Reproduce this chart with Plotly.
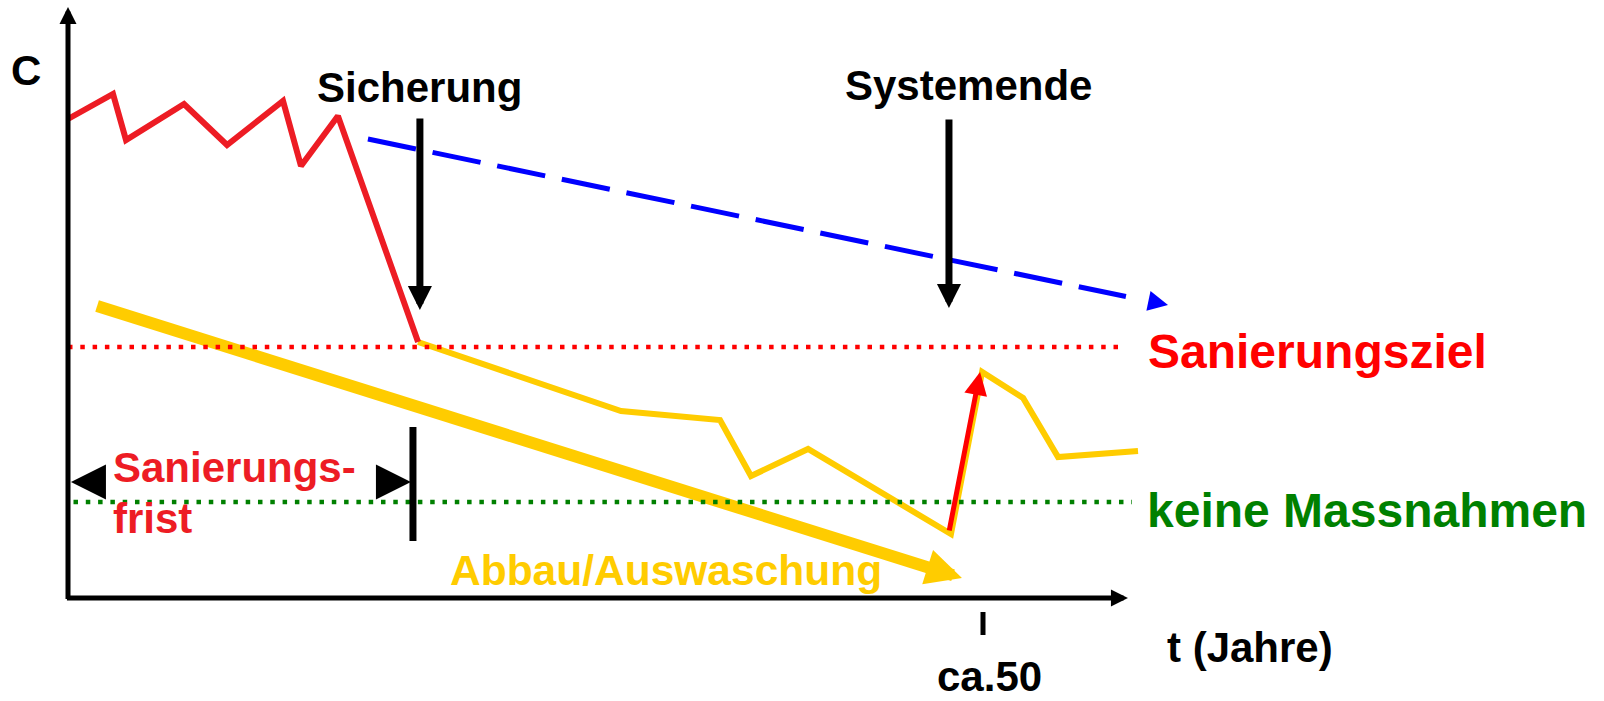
import plotly.graph_objects as go

# ---------------- data (t in years, C in arbitrary concentration units) ----------------
# measured concentration before/while remediation (red)
t_measured = [0.0, 2.46, 3.17, 6.34, 8.69, 11.75, 12.73, 14.75, 19.13]
c_measured = [95.8, 100.8, 91.6, 98.8, 90.6, 99.4, 86.4, 96.4, 51.2]

# concentration after "Sicherung" (thin yellow)
t_after = [19.13, 30.22, 35.63, 37.32, 40.44, 48.25, 49.95, 52.19, 54.10, 58.47]
c_after = [51.2, 37.4, 35.6, 24.4, 29.8, 12.8, 45.2, 40.0, 28.2, 29.4]

# prognosis without measures (blue dashed arrow)
t_prognosis = [16.39, 57.81]
c_prognosis = [91.8, 60.3]
t_prognosis_head = [59.04, 60.11]
c_prognosis_head = [59.42, 58.6]

# natural attenuation "Abbau/Auswaschung" (thick yellow arrow)
t_decay = [1.59, 47.10]
c_decay = [58.4, 6.0]
t_decay_head = [47.03, 48.85]
c_decay_head = [6.1, 4.0]

# reference levels
c_target = 50.2          # Sanierungsziel
c_none = 19.2            # keine Massnahmen
t_target_line = [0.0, 57.76]
t_none_line = [0.3, 58.14]

# events
t_sicherung = 19.23
c_sicherung = [96.2, 57.6]
t_systemende = 48.14
c_systemende = [96.0, 58.0]

# rebound after system end (red arrow)
t_rebound = [48.14, 49.84]
c_rebound = [13.2, 45.2]

# Sanierungsfrist
t_frist_left = [2.08, 0.16]
t_frist_right = [16.83, 18.74]
c_frist = 23.2
t_frist_end = 18.85
c_frist_bar = [34.2, 11.4]

# axes
t_axis_end = 57.92
c_axis_end = 118.2
t_tick = 50.0
c_tick = [-2.8, -7.4]
tick_label = "ca.50"

# ---------------- figure ----------------
FONT = "Liberation Sans, Arial, sans-serif"
fig = go.Figure()

def line(x, y, color, width, dash=None):
    fig.add_trace(go.Scatter(x=x, y=y, mode="lines", hoverinfo="skip",
                             line=dict(color=color, width=width, dash=dash)))

def arrow(xs, ys, color, width, size, head=2):
    fig.add_annotation(x=xs[1], y=ys[1], ax=xs[0], ay=ys[0], xref="x", yref="y",
                       axref="x", ayref="y", text="", showarrow=True,
                       arrowhead=head, arrowsize=size, arrowwidth=width,
                       arrowcolor=color, standoff=0)

def label(x, y, text, color, size, xanchor="center"):
    fig.add_annotation(x=x, y=y, xref="x", yref="y", text=text, showarrow=False,
                       xanchor=xanchor, yanchor="middle", borderpad=0, borderwidth=0,
                       font=dict(family=FONT, size=size, color=color, weight="bold"))

line(t_decay, c_decay, "#FFCC00", 12)
line(t_after, c_after, "#FFCC00", 6)
line(t_measured, c_measured, "#ED1C24", 6)
line(t_prognosis, c_prognosis, "#0000FF", 5, "49px,17px")
line(t_target_line, [c_target, c_target], "#FF0000", 4.5, "4.5px,7.8px")
line(t_none_line, [c_none, c_none], "#008000", 4.5, "4.5px,7.8px")
line([t_frist_end, t_frist_end], c_frist_bar, "black", 7)
line([t_tick, t_tick], c_tick, "black", 5)

# axes with arrow heads
arrow([-0.14, t_axis_end], [0, 0], "black", 5, 0.68)
arrow([0, 0], [-0.5, c_axis_end], "black", 5, 0.68)

arrow(t_decay_head, c_decay_head, "#FFCC00", 12, 0.6)
arrow(t_prognosis_head, c_prognosis_head, "#0000FF", 4, 1.0)
arrow([t_sicherung, t_sicherung], c_sicherung, "black", 7, 0.686)
arrow([t_systemende, t_systemende], c_systemende, "black", 7, 0.686)
arrow(t_rebound, c_rebound, "#FF0000", 5, 0.92)
arrow(t_frist_left, [c_frist, c_frist], "black", 4, 1.75)
arrow(t_frist_right, [c_frist, c_frist], "black", 4, 1.75)

# texts
label(-2.30, 105.6, "C", "black", 42)
label(19.23, 102.2, "Sicherung", "black", 42)
label(49.18, 102.6, "Systemende", "black", 42)
label(59.02, 49.4, "Sanierungsziel", "#FF0000", 48, "left")
label(58.96, 17.6, "keine Massnahmen", "#008000", 48, "left")
label(2.46, 26.2, "Sanierungs-", "#ED1C24", 42, "left")
label(2.46, 16.0, "frist", "#ED1C24", 42, "left")
label(20.87, 5.6, "Abbau/Auswaschung", "#FFCC00", 42.5, "left")
label(60.05, -9.8, "t (Jahre)", "black", 42, "left")
label(50.33, -15.7, tick_label, "black", 42)

fig.update_xaxes(range=[-3.7158, 83.934], visible=False, fixedrange=True)
fig.update_yaxes(range=[-20.6, 119.6], visible=False, fixedrange=True)
fig.update_layout(width=1604, height=701, autosize=False,
                  margin=dict(l=0, r=0, t=0, b=0, pad=0),
                  paper_bgcolor="white", plot_bgcolor="white", showlegend=False)

fig.write_html("out.html", config={"displayModeBar": False, "staticPlot": True},
               post_script="document.body.style.margin='0';document.body.style.overflow='hidden';")
